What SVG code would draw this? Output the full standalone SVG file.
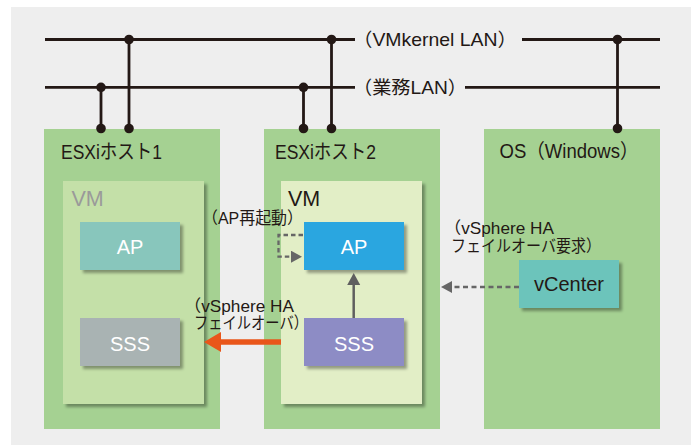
<svg xmlns="http://www.w3.org/2000/svg" width="691" height="445" viewBox="0 0 691 445">
<style>
text{font-family:"Liberation Sans","Noto Sans CJK JP",sans-serif;fill:#231815}
.host{fill:#a5d192}
.hl{font-size:20px}
.net{font-size:18.5px}
.note{font-size:16.5px}
.box{filter:url(#sh)}
.bl{font-size:20px;fill:#fff;text-anchor:middle}
.wire{stroke:#231815;stroke-width:2.8;fill:none}
.dot{fill:#231815}
</style>
<defs>
<filter id="sh" x="-10%" y="-10%" width="130%" height="130%">
<feDropShadow dx="3" dy="3" stdDeviation="1.5" flood-color="#000" flood-opacity="0.35"/>
</filter>
<marker id="ao" markerUnits="userSpaceOnUse" markerWidth="18" markerHeight="22" refX="0" refY="10" orient="auto">
<path d="M0,0 L17,10 L0,20 z" fill="#e9561a"/>
</marker>
<marker id="ag" markerUnits="userSpaceOnUse" markerWidth="13" markerHeight="14" refX="0" refY="6.5" orient="auto">
<path d="M0,0 L12,6.5 L0,13 z" fill="#5f5f5f"/>
</marker>
<marker id="ad" markerUnits="userSpaceOnUse" markerWidth="12" markerHeight="13" refX="0" refY="6" orient="auto">
<path d="M0,0 L11,6 L0,12 z" fill="#666"/>
</marker>
</defs>
<rect x="0" y="0" width="691" height="445" fill="#fff"/>
<rect x="11" y="7" width="680" height="438" fill="#eeeeee"/>

<g id="host1">
<rect class="host" x="44" y="129" width="176" height="300"/>
<text class="hl" x="61" y="158.5" textLength="101" lengthAdjust="spacingAndGlyphs">ESXiホスト1</text>
<g id="vm1">
<rect class="box" x="63" y="181" width="141" height="223" fill="#c4e0a8"/>
<text x="71.5" y="206" font-size="21.5" style="fill:#9a9a9a">VM</text>
<g id="ap1">
<rect class="box" x="80" y="222" width="100" height="48" fill="#88c6bc"/>
<text class="bl" x="130" y="254">AP</text>
</g>
<g id="sss1">
<rect class="box" x="80" y="318" width="100" height="48" fill="#a9b3b3"/>
<text class="bl" x="130" y="350.5">SSS</text>
</g>
</g>
</g>

<g id="host2">
<rect class="host" x="264" y="129" width="176" height="300"/>
<text class="hl" x="275" y="158.5" textLength="101" lengthAdjust="spacingAndGlyphs">ESXiホスト2</text>
<g id="vm2">
<rect class="box" x="281" y="181" width="141" height="223" fill="#e2eec6"/>
<text x="288" y="205.5" font-size="21.5">VM</text>
<g id="ap2">
<rect class="box" x="304" y="222" width="100" height="48" fill="#2ca6e0"/>
<text class="bl" x="354" y="254">AP</text>
</g>
<g id="sss2">
<rect class="box" x="304" y="318" width="100" height="48" fill="#8d8cc5"/>
<text class="bl" x="354" y="350.5">SSS</text>
</g>
</g>
</g>

<g id="os">
<rect class="host" x="484" y="129" width="176" height="300"/>
<text class="hl" x="499.5" y="157.5" textLength="139" lengthAdjust="spacingAndGlyphs">OS（Windows）</text>
<g id="vcenter">
<rect class="box" x="519" y="260" width="100" height="48" fill="#6cc4bb"/>
<text class="bl" x="569" y="291" style="fill:#231815">vCenter</text>
</g>
</g>

<g id="labels">
<text class="net" x="353" y="46" textLength="164" lengthAdjust="spacingAndGlyphs">（VMkernel LAN）</text>
<text class="net" x="353" y="94" textLength="114" lengthAdjust="spacingAndGlyphs">（業務LAN）</text>
<text class="note" x="202" y="224" textLength="101" lengthAdjust="spacingAndGlyphs">（AP再起動）</text>
<text class="note" x="184" y="311.5" textLength="110" lengthAdjust="spacingAndGlyphs">（vSphere HA</text>
<text class="note" x="194" y="328.5" textLength="114" lengthAdjust="spacingAndGlyphs">フェイルオーバ）</text>
<text class="note" x="444" y="233.5" textLength="110" lengthAdjust="spacingAndGlyphs">（vSphere HA</text>
<text class="note" x="451" y="251.5" textLength="150" lengthAdjust="spacingAndGlyphs">フェイルオーバ要求）</text>
</g>

<g id="connectors">
<path class="wire" d="M45,39.5 H355 M522,39.5 H660 M45,87.3 H355 M465,87.3 H660"/>
<path class="wire" stroke-width="2.5" d="M101,87.3 V128 M129,39.5 V128 M303.5,87.3 V128 M331.5,39.5 V128 M617.5,39.5 V128"/>
<g class="dot">
<circle cx="101" cy="87.3" r="4.8"/><circle cx="101" cy="128.5" r="4.8"/>
<circle cx="129" cy="39.5" r="4.8"/><circle cx="129" cy="128.5" r="4.8"/>
<circle cx="303.5" cy="87.3" r="4.8"/><circle cx="303.5" cy="128.5" r="4.8"/>
<circle cx="331.5" cy="39.5" r="4.8"/><circle cx="331.5" cy="128.5" r="4.8"/>
<circle cx="617.5" cy="39.5" r="4.8"/><circle cx="617.5" cy="128.5" r="4.8"/>
</g>
<line x1="281" y1="342" x2="221" y2="342" stroke="#e9561a" stroke-width="5.5" marker-end="url(#ao)"/>
<line x1="353.7" y1="318" x2="353.7" y2="285" stroke="#5f5f5f" stroke-width="2.5" marker-end="url(#ag)"/>
<path d="M303,235 H278.5 V256.7 H291" fill="none" stroke="#666" stroke-width="2.3" stroke-dasharray="4.5 3" marker-end="url(#ad)"/>
<line x1="519" y1="287" x2="452" y2="287" stroke="#666" stroke-width="2.3" stroke-dasharray="5 3.5" marker-end="url(#ad)"/>
</g>
</svg>
